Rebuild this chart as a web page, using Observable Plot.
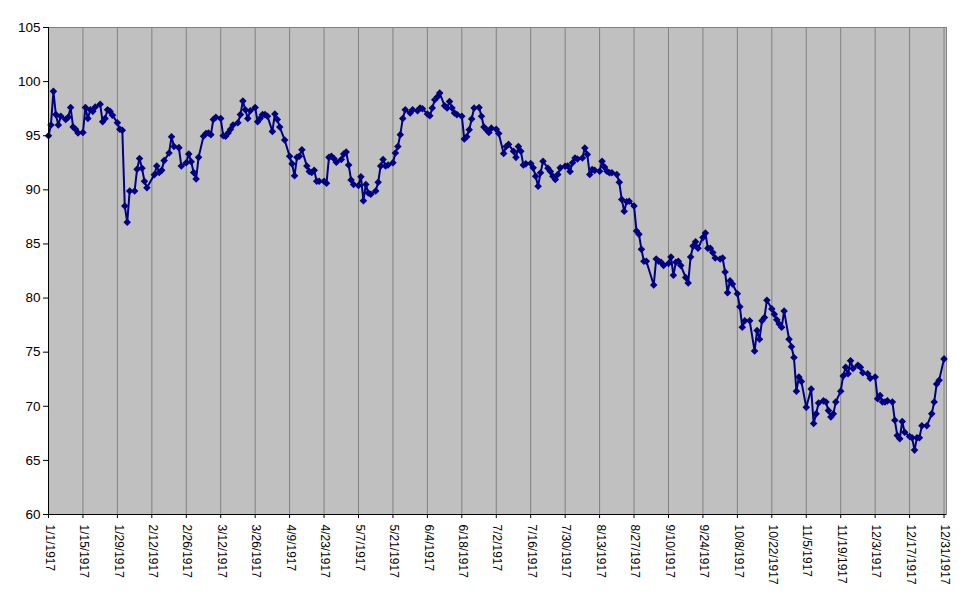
<!DOCTYPE html>
<html>
<head>
<meta charset="utf-8">
<script src="https://cdn.jsdelivr.net/npm/d3@7"></script>
<script src="https://cdn.jsdelivr.net/npm/@observablehq/plot@0.6"></script>
<style>
  html, body { margin: 0; padding: 0; background: #ffffff; }
  #chart svg { display: block; }
</style>
</head>
<body>
<div id="chart"></div>
<script>
// Daily closes, 1917 (trading days Mon–Sat, exchange holidays skipped)
const holidays = ["1917-02-12", "1917-02-22", "1917-04-06", "1917-05-30", "1917-07-04",
                  "1917-09-03", "1917-10-12", "1917-11-06", "1917-11-29", "1917-12-25"];

const jan = [95.0, 96.0, 99.1, 96.95, 96.0, 96.8, 96.5, 96.7, 97.6, 95.8, 95.6, 95.25, 95.3, 97.6,
             96.6, 97.4, 97.25, 97.65, 97.9, 96.3, 96.6, 97.4, 97.25, 96.9, 96.2, 95.6, 95.5];
const feb = [88.5, 87.0, 89.9, 89.9, 91.9, 92.9, 92.0, 90.8, 90.2, 91.4, 92.2, 91.6, 91.8, 92.7,
             93.4, 94.9, 94.0, 93.9, 92.2, 92.5, 93.3, 92.6];
const mar = [91.6, 91.0, 93.0, 94.95, 95.2, 95.25, 95.1, 96.5, 96.7, 96.6, 95.0, 94.95, 95.25, 95.6,
             96.0, 96.2, 96.95, 98.2, 97.4, 96.6, 97.3, 97.6, 96.3, 96.6, 96.95, 96.95, 96.8];
const apr = [95.4, 97.0, 96.5, 95.8, 94.6, 93.1, 92.4, 91.3, 93.0, 93.1, 93.7, 92.2, 91.7, 91.6,
             91.8, 90.8, 90.8, 90.8, 90.6, 93.0, 93.1, 92.9, 92.55, 92.8];
const may = [93.3, 93.5, 92.3, 90.9, 90.5, 90.4, 91.2, 89.0, 90.5, 89.7, 89.6, 89.9, 90.7, 92.2,
             92.8, 92.2, 92.3, 92.5, 93.4, 94.0, 95.1, 96.6, 97.4, 97.1, 97.4, 97.3];
const jun = [97.56, 97.5, 97.0, 96.85, 97.56, 98.33, 98.57, 98.94, 97.77, 97.56, 98.17, 97.56, 97.1,
             96.95, 96.8, 94.7, 94.9, 95.56, 96.55, 97.56, 97.6, 96.8, 95.8, 95.56, 95.3, 95.7];
const jul = [95.6, 95.2, 93.35, 94.0, 94.2, 93.56, 93.0, 94.0, 93.56, 92.3, 92.4, 92.43, 92.03, 91.26,
             90.34, 91.57, 92.64, 92.0, 91.7, 91.26, 90.95, 91.41, 92.03, 92.18, 92.2];
const aug = [91.7, 92.5, 92.95, 92.85, 92.95, 93.87, 93.26, 91.41, 91.87, 91.8, 91.72, 92.64, 92.1,
             91.72, 91.57, 91.57, 91.41, 90.7, 89.1, 88.03, 88.9, 88.95, 88.5, 86.2, 85.9, 84.5, 83.4];
const sep = [83.4, 81.2, 83.6, 83.4, 83.3, 83.0, 83.2, 83.8, 82.1, 83.3, 83.4, 83.0, 81.9, 81.4,
             83.8, 84.8, 85.2, 84.6, 85.6, 86.0, 84.6, 84.6, 84.2, 83.7];
const oct = [83.6, 83.7, 82.4, 80.5, 81.6, 81.3, 80.4, 79.2, 77.3, 77.9, 77.9, 75.1, 77.0, 76.2,
             77.9, 78.2, 79.8, 79.0, 78.5, 78.0, 77.6, 77.3, 78.8, 76.2, 75.5, 74.5];
const nov = [71.4, 72.7, 72.3, 69.9, 71.6, 68.4, 69.3, 70.3, 70.5, 70.4, 69.6, 69.0, 69.3, 70.4,
             71.4, 72.8, 73.6, 73.0, 74.2, 73.5, 73.8, 73.6, 73.1, 73.0];
const dec = [72.6, 72.7, 70.7, 71.0, 70.4, 70.4, 70.5, 70.4, 68.7, 67.3, 67.0, 68.6, 67.6, 67.2,
             67.1, 65.95, 67.1, 67.1, 68.2, 68.2, 69.3, 70.4, 72.05, 72.4, 74.38];

const yTicks = [60, 65, 70, 75, 80, 85, 90, 95, 100, 105];
const tickStepDays = 14;
const tickCount = 27;

// Build the table
const monthSeries = [jan, feb, mar, apr, may, jun, jul, aug, sep, oct, nov, dec];
const holidaySet = new Set(holidays);
const rows = [];
monthSeries.forEach((vals, m) => {
  const days = [];
  const n = new Date(Date.UTC(1917, m + 1, 0)).getUTCDate();
  for (let d = 1; d <= n; d++) {
    const dt = new Date(Date.UTC(1917, m, d));
    if (dt.getUTCDay() === 0) continue;
    if (holidaySet.has(dt.toISOString().slice(0, 10))) continue;
    days.push(dt);
  }
  if (days.length !== vals.length) console.warn("month", m + 1, days.length, vals.length);
  vals.forEach((v, i) => { if (i < days.length) rows.push({date: days[i], value: v}); });
});

const tickDates = Array.from({length: tickCount}, (_, i) => new Date(Date.UTC(1917, 0, 1 + tickStepDays * i)));
const fmt = d => `${d.getUTCMonth() + 1}/${d.getUTCDate()}/${d.getUTCFullYear()}`;

const start = new Date(Date.UTC(1917, 0, 1));
const end = new Date(Date.UTC(1918, 0, 1));

const chart = Plot.plot({
  width: 971,
  height: 605,
  marginLeft: 48,
  marginRight: 25,
  marginTop: 27,
  marginBottom: 91,
  style: {fontFamily: "Arial, 'Liberation Sans', sans-serif", fontSize: "12px", color: "#000", background: "#fff"},
  x: {type: "utc", domain: [start, end], label: null},
  y: {domain: [60, 105], label: null},
  marks: [
    Plot.frame({fill: "#c0c0c0", stroke: "#808080"}),
    Plot.ruleX(tickDates, {stroke: "#808080", strokeWidth: 1}),
    Plot.line(rows, {x: "date", y: "value", stroke: "#000080", strokeWidth: 2}),
    Plot.dot(rows, {x: "date", y: "value", symbol: "diamond2", r: 3.4, fill: "#000080", stroke: "none"}),
    Plot.ruleY([60], {stroke: "#000"}),
    Plot.ruleX([start], {stroke: "#000"}),
    Plot.axisX({ticks: tickDates, tickSize: 4, tickFormat: () => "", stroke: "#000"}),
    Plot.text(tickDates, {x: d => d, frameAnchor: "bottom", text: fmt, rotate: 90,
      textAnchor: "start", lineAnchor: "middle", dy: 10, dx: 1, fontSize: 12, fill: "#000"}),
    Plot.axisY({ticks: yTicks, tickSize: 5, tickPadding: 3, fontSize: 13.5, tickFormat: d => String(d), stroke: "#000"})
  ]
});
document.getElementById("chart").appendChild(chart);
</script>
</body>
</html>
